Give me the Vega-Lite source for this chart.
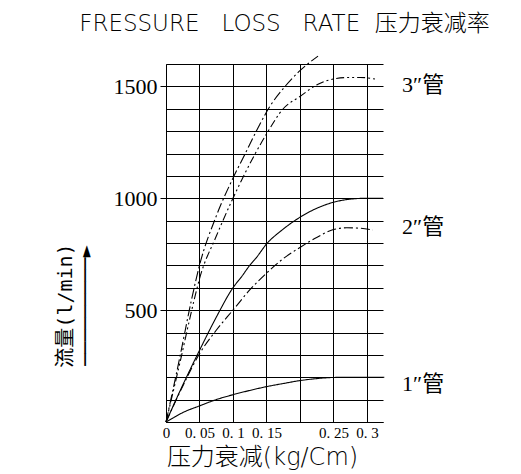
{
  "$schema": "https://vega.github.io/schema/vega-lite/v6.json",
  "width": 217,
  "height": 358,
  "autosize": {"type": "none"},
  "padding": {"left": 166, "top": 64, "right": 138, "bottom": 52},
  "background": "white",
  "config": {"view": {"stroke": null}},
  "resolve": {"axis": {"x": "independent", "y": "independent"}},
  "title": {
    "text": "FRESSURE\u00a0\u00a0\u00a0LOSS\u00a0\u00a0\u00a0RATE\u00a0\u00a0压力衰减率",
    "font": "DejaVu Sans, Noto Sans CJK SC",
    "fontSize": 23,
    "fontWeight": 300,
    "color": "black",
    "anchor": "middle",
    "dx": 10,
    "offset": 17
  },
  "datasets": {
    "curves": [
      {"pipe": "1in", "p": 0, "q": 0},
      {"pipe": "1in", "p": 0.01, "q": 17},
      {"pipe": "1in", "p": 0.025, "q": 42},
      {"pipe": "1in", "p": 0.05, "q": 72},
      {"pipe": "1in", "p": 0.075, "q": 100},
      {"pipe": "1in", "p": 0.1, "q": 122},
      {"pipe": "1in", "p": 0.125, "q": 141},
      {"pipe": "1in", "p": 0.15, "q": 158},
      {"pipe": "1in", "p": 0.175, "q": 172},
      {"pipe": "1in", "p": 0.2, "q": 185},
      {"pipe": "1in", "p": 0.225, "q": 194},
      {"pipe": "1in", "p": 0.25, "q": 199},
      {"pipe": "1in", "p": 0.275, "q": 200},
      {"pipe": "1in", "p": 0.3, "q": 200},
      {"pipe": "1in", "p": 0.326, "q": 200},

      {"pipe": "2in-a", "p": 0, "q": 0},
      {"pipe": "2in-a", "p": 0.025, "q": 165},
      {"pipe": "2in-a", "p": 0.05, "q": 320},
      {"pipe": "2in-a", "p": 0.075, "q": 468},
      {"pipe": "2in-a", "p": 0.1, "q": 600},
      {"pipe": "2in-a", "p": 0.113, "q": 650},
      {"pipe": "2in-a", "p": 0.125, "q": 700},
      {"pipe": "2in-a", "p": 0.135, "q": 735},
      {"pipe": "2in-a", "p": 0.15, "q": 795},
      {"pipe": "2in-a", "p": 0.175, "q": 862},
      {"pipe": "2in-a", "p": 0.2, "q": 915},
      {"pipe": "2in-a", "p": 0.225, "q": 955},
      {"pipe": "2in-a", "p": 0.25, "q": 982},
      {"pipe": "2in-a", "p": 0.275, "q": 996},
      {"pipe": "2in-a", "p": 0.3, "q": 1000},
      {"pipe": "2in-a", "p": 0.324, "q": 1000},

      {"pipe": "2in-b", "p": 0, "q": 0},
      {"pipe": "2in-b", "p": 0.025, "q": 160},
      {"pipe": "2in-b", "p": 0.05, "q": 305},
      {"pipe": "2in-b", "p": 0.075, "q": 410},
      {"pipe": "2in-b", "p": 0.1, "q": 500},
      {"pipe": "2in-b", "p": 0.125, "q": 590},
      {"pipe": "2in-b", "p": 0.15, "q": 665},
      {"pipe": "2in-b", "p": 0.175, "q": 730},
      {"pipe": "2in-b", "p": 0.2, "q": 780},
      {"pipe": "2in-b", "p": 0.225, "q": 825},
      {"pipe": "2in-b", "p": 0.25, "q": 860},
      {"pipe": "2in-b", "p": 0.27, "q": 868},
      {"pipe": "2in-b", "p": 0.29, "q": 866},
      {"pipe": "2in-b", "p": 0.309, "q": 858},

      {"pipe": "3in-a", "p": 0, "q": 0},
      {"pipe": "3in-a", "p": 0.02, "q": 280},
      {"pipe": "3in-a", "p": 0.038, "q": 545},
      {"pipe": "3in-a", "p": 0.05, "q": 700},
      {"pipe": "3in-a", "p": 0.075, "q": 920},
      {"pipe": "3in-a", "p": 0.1, "q": 1090},
      {"pipe": "3in-a", "p": 0.118, "q": 1198},
      {"pipe": "3in-a", "p": 0.14, "q": 1330},
      {"pipe": "3in-a", "p": 0.155, "q": 1410},
      {"pipe": "3in-a", "p": 0.175, "q": 1490},
      {"pipe": "3in-a", "p": 0.2, "q": 1570},
      {"pipe": "3in-a", "p": 0.227, "q": 1635},

      {"pipe": "3in-b", "p": 0, "q": 0},
      {"pipe": "3in-b", "p": 0.02, "q": 255},
      {"pipe": "3in-b", "p": 0.042, "q": 545},
      {"pipe": "3in-b", "p": 0.05, "q": 640},
      {"pipe": "3in-b", "p": 0.075, "q": 830},
      {"pipe": "3in-b", "p": 0.1, "q": 1000},
      {"pipe": "3in-b", "p": 0.113, "q": 1082},
      {"pipe": "3in-b", "p": 0.133, "q": 1198},
      {"pipe": "3in-b", "p": 0.151, "q": 1292},
      {"pipe": "3in-b", "p": 0.175, "q": 1400},
      {"pipe": "3in-b", "p": 0.2, "q": 1455},
      {"pipe": "3in-b", "p": 0.227, "q": 1510},
      {"pipe": "3in-b", "p": 0.25, "q": 1533},
      {"pipe": "3in-b", "p": 0.275, "q": 1540},
      {"pipe": "3in-b", "p": 0.29, "q": 1540},
      {"pipe": "3in-b", "p": 0.312, "q": 1533}
    ],
    "labels": [
      {"label": "3″管", "p": 0.324, "q": 1505},
      {"label": "2″管", "p": 0.324, "q": 870},
      {"label": "1″管", "p": 0.324, "q": 168}
    ]
  },
  "layer": [
    {
      "data": {"name": "curves"},
      "mark": {"type": "line", "color": "black", "strokeWidth": 1.1, "interpolate": "monotone", "clip": false},
      "encoding": {
        "x": {
          "field": "p",
          "type": "quantitative",
          "scale": {"domain": [0, 0.324], "nice": false},
          "axis": {
            "values": [0, 0.05, 0.1, 0.15, 0.2, 0.25, 0.3],
            "labelExpr": "datum.value == 0 ? '0' : (abs(datum.value - 0.2) < 0.001 ? '' : '0. ' + slice(format(datum.value, '.2~f'), 2))",
            "grid": true,
            "gridColor": "black",
            "gridOpacity": 1,
            "gridWidth": 1,
            "ticks": false,
            "domainColor": "black",
            "domainWidth": 1,
            "labelFont": "Liberation Serif",
            "labelFontSize": 15,
            "labelColor": "black",
            "labelPadding": 3,
            "labelFlush": false,
            "labelOverlap": false,
            "title": "压力衰减(kg/Cm)",
            "titleFont": "DejaVu Sans, Noto Sans CJK SC",
            "titleFontSize": 24,
            "titleFontWeight": 300,
            "titleColor": "black",
            "titleX": 96,
            "titlePadding": 5
          }
        },
        "y": {
          "field": "q",
          "type": "quantitative",
          "scale": {"domain": [0, 1600], "nice": false},
          "axis": {
            "values": [0, 100, 200, 300, 400, 500, 600, 700, 800, 900, 1000, 1100, 1200, 1300, 1400, 1500, 1600],
            "format": "d",
            "labelExpr": "datum.value % 500 === 0 && datum.value > 0 ? datum.label : ''",
            "grid": true,
            "gridColor": "black",
            "gridOpacity": 1,
            "gridWidth": 1,
            "tickSize": 6,
            "tickColor": "black",
            "tickOpacity": {"condition": {"test": "datum.value % 500 === 0 && datum.value > 0", "value": 1}, "value": 0},
            "domainColor": "black",
            "domainWidth": 1,
            "labelFont": "Liberation Serif",
            "labelFontSize": 22,
            "labelColor": "black",
            "labelPadding": 3,
            "labelOverlap": false,
            "title": ["流量(l/min)", "─────────►"],
            "titleFont": "DejaVu Sans Mono, Noto Sans CJK SC",
            "titleFontSize": 20,
            "titleFontWeight": "normal",
            "titleColor": "black",
            "titleLineHeight": 20,
            "titleY": 241,
            "titlePadding": 18
          }
        },
        "detail": {"field": "pipe"},
        "strokeDash": {
          "field": "pipe",
          "type": "nominal",
          "scale": {
            "domain": ["1in", "2in-a", "2in-b", "3in-a", "3in-b"],
            "range": [[1, 0], [1, 0], [9, 3, 2, 3], [10, 3, 2, 3], [8, 3, 2, 3, 2, 3]]
          },
          "legend": null
        }
      }
    },
    {
      "data": {"name": "labels"},
      "mark": {"type": "text", "align": "left", "baseline": "middle", "dx": 19, "font": "Liberation Serif, Noto Sans CJK SC", "fontSize": 22, "color": "black"},
      "encoding": {
        "x": {"field": "p", "type": "quantitative", "axis": null},
        "y": {"field": "q", "type": "quantitative", "axis": null},
        "text": {"field": "label"}
      }
    }
  ]
}
